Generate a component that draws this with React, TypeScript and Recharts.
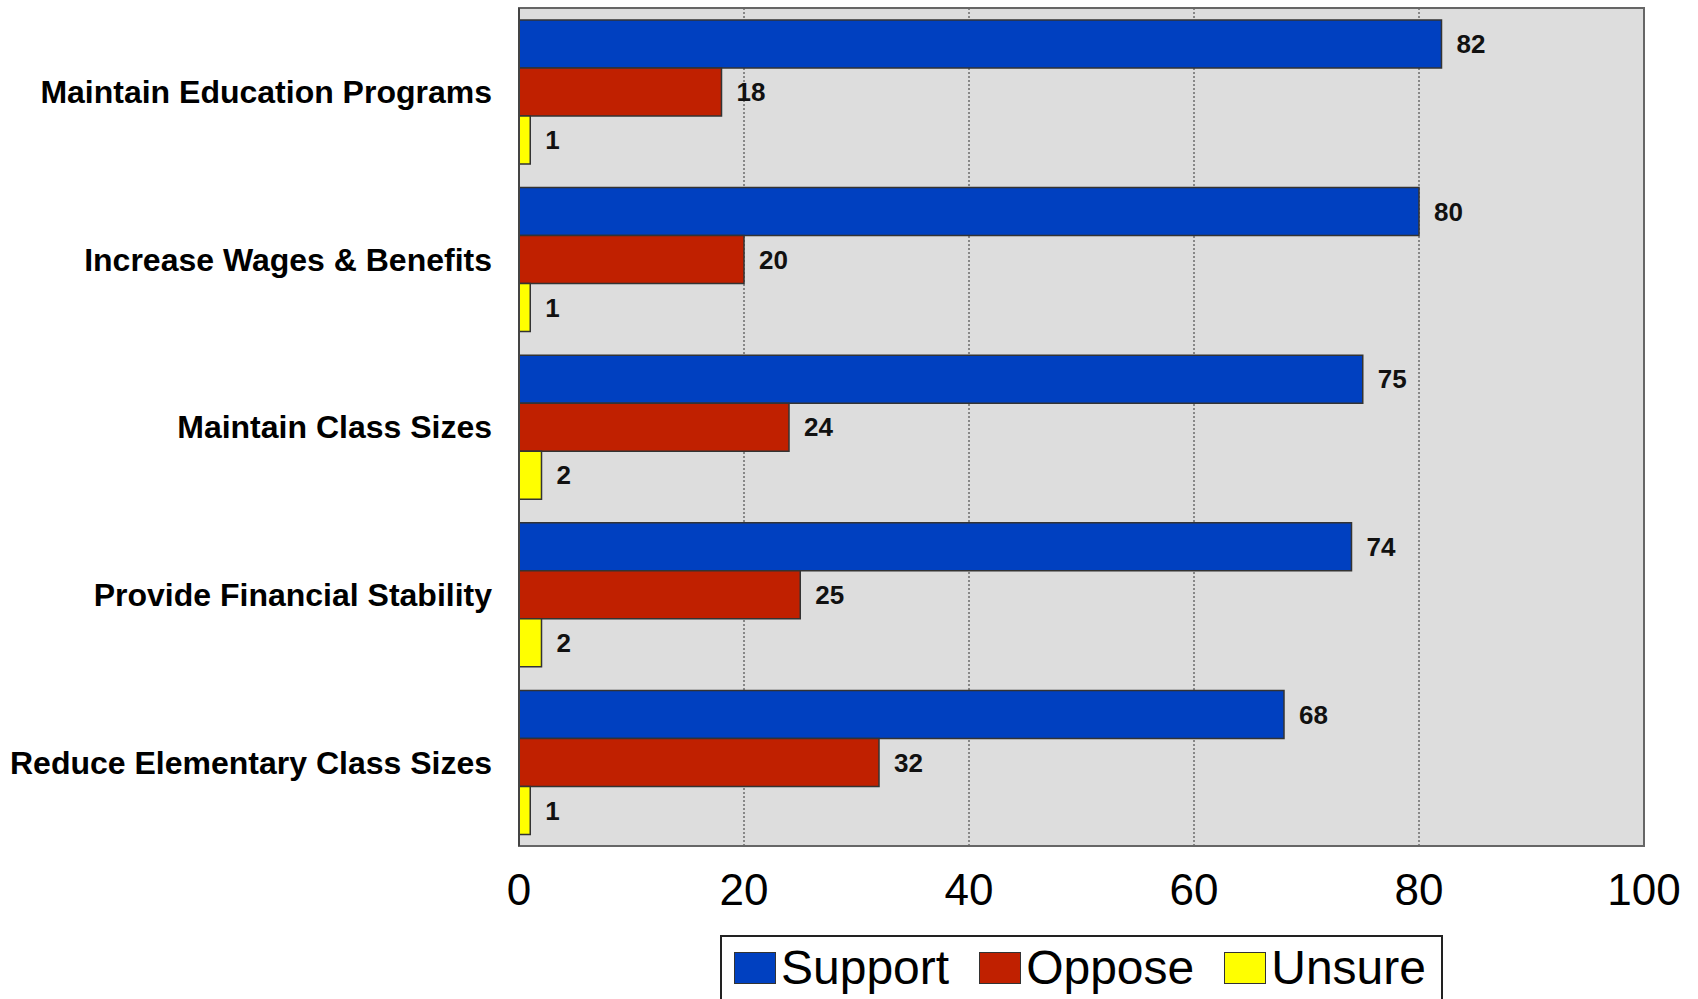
import React from 'react';
import {
  BarChart,
  Bar,
  XAxis,
  YAxis,
  CartesianGrid,
  LabelList,
  Legend,
  ReferenceArea,
} from 'recharts';

const categories = [
  'Maintain Education Programs',
  'Increase Wages & Benefits',
  'Maintain Class Sizes',
  'Provide Financial Stability',
  'Reduce Elementary Class Sizes',
];
const support = [82, 80, 75, 74, 68];
const oppose = [18, 20, 24, 25, 32];
const unsure = [1, 1, 2, 2, 1];
const xTicks = [0, 20, 40, 60, 80, 100];

const series = [
  { key: 'support', name: 'Support', color: '#0040c0' },
  { key: 'oppose', name: 'Oppose', color: '#c02000' },
  { key: 'unsure', name: 'Unsure', color: '#ffff00' },
];

const data = categories.map((name, i) => ({
  name,
  support: support[i],
  oppose: oppose[i],
  unsure: unsure[i],
}));

const FONT = '"Liberation Sans", Arial, sans-serif';

const LegendBox = () => (
  <div
    style={{
      display: 'flex',
      alignItems: 'center',
      height: 64,
      border: '2px solid #222',
      borderBottom: 'none',
      background: '#fff',
      paddingLeft: 12,
      boxSizing: 'border-box',
      fontFamily: FONT,
      fontSize: 48,
      color: '#000',
      lineHeight: 1,
    }}
  >
    {series.map((s) => (
      <div key={s.key} style={{ display: 'flex', alignItems: 'center', marginRight: 30 }}>
        <span
          style={{
            display: 'inline-block',
            width: 40,
            height: 30,
            background: s.color,
            border: '1.5px solid #333',
            marginRight: 5,
          }}
        />
        <span>{s.name}</span>
      </div>
    ))}
  </div>
);

export default function App() {
  return (
    <div style={{ position: 'absolute', left: 0, top: 0, width: 1698, height: 999, background: '#fff' }}>
      <BarChart
        width={1698}
        height={999}
        data={data}
        layout="vertical"
        margin={{ top: 8, right: 54, left: 0, bottom: 93 }}
        barCategoryGap={12}
        barGap={0}
      >
        <CartesianGrid
          horizontal={false}
          fill="#dddddd"
          fillOpacity={1}
          stroke="#333"
          strokeDasharray="2 2"
        />
        <XAxis
          type="number"
          domain={[0, 100]}
          ticks={xTicks}
          height={60}
          tickLine={false}
          tickSize={0}
          tickMargin={28}
          axisLine={{ stroke: '#666', strokeWidth: 2 }}
          tick={{ fontSize: 44, fill: '#000', fontFamily: FONT }}
        />
        <YAxis
          type="category"
          dataKey="name"
          width={519}
          tickLine={false}
          tickSize={0}
          tickMargin={27}
          axisLine={{ stroke: '#444', strokeWidth: 2 }}
          tick={{ fontSize: 32, fontWeight: 'bold', fill: '#000', fontFamily: FONT }}
        />
        <ReferenceArea x1={0} x2={100} fill="none" stroke="#666" strokeWidth={2} />
        {series.map((s) => (
          <Bar
            key={s.key}
            dataKey={s.key}
            name={s.name}
            fill={s.color}
            stroke="#333"
            strokeWidth={1.5}
            isAnimationActive={false}
          >
            <LabelList
              dataKey={s.key}
              position="right"
              offset={15}
              style={{ fontSize: 26, fontWeight: 'bold', fill: '#111', fontFamily: FONT }}
            />
          </Bar>
        ))}
        <Legend
          layout="horizontal"
          verticalAlign="middle"
          align="center"
          content={<LegendBox />}
          wrapperStyle={{ position: 'absolute', left: 720, top: 935, width: 723, height: 64 }}
        />
      </BarChart>
    </div>
  );
}
